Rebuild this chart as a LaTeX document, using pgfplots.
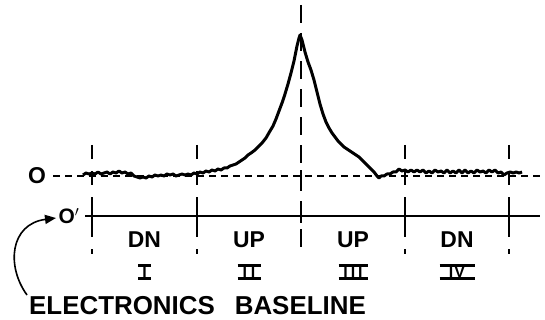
\documentclass[border=0pt]{standalone}
\usepackage{pgfplots}
\pgfplotsset{compat=1.18}
\usepackage{fontspec}
\setmainfont{Liberation Sans}
\usetikzlibrary{arrows.meta}
\newcommand{\rn}[2]{\vbox{\hrule width #1 height 2.6bp\hbox to #1{\hss#2\hss}\hrule width #1 height 2.6bp}}
\pgfplotstableread{
x y
83 1
86 3
89 2
92 3
95 2
98 4
101 2
104 3
107 4
110 2
113 4
116 3
119 5
122 3
125 4
128 2
131 3
134 0
137 -1
140 -2
143 -1
146 -2
149 0
152 -1
155 1
158 0
161 1
164 0
167 2
170 1
173 2
176 0
179 1
182 2
185 1
188 2
191 1
194 3
197 2
200 4
203 3
206 5
209 4
212 6
215 5
218 7
221 6
224 8
227 8
230 10
233 11
236 12
239 14
242 16
245 18
248 21
251 23
255 26
259 30
262 33
266 38
270 45
273 50
276 57
279 65
282 73
285 82
288 92
291 103
294 115
297 130
299 138
300 141
302 136
305 124
308 114
311 106
314 96
317 84
320 72
323 62
326 54
329 48
332 43
335 39
338 35
341 32
344 29
347 27
350 25
353 23
356 21
359 19
362 16
365 13
368 10
371 7
374 4
377 0
379 -2
381 0
384 0
387 2
390 2
393 4
396 4
399 7
402 5
405 6
408 4
411 6
414 4
417 6
420 4
423 6
426 3
429 5
432 3
435 6
438 4
441 5
444 3
447 6
450 3
453 5
456 3
459 6
462 3
465 6
468 3
471 5
474 3
477 6
480 4
483 5
486 3
489 6
492 4
495 6
498 3
501 4
504 1
507 3
510 4
513 3
516 4
519 3
522 4
}\trace
\begin{document}
\begin{tikzpicture}
\begin{axis}[name=ax, scale only axis, width=545bp, height=320bp,
  xmin=0, xmax=545, ymin=-144, ymax=176, hide axis, clip=false]
% zero line
\addplot[black, line width=1.5bp, dash pattern=on 7bp off 5bp] coordinates {(53,0) (543,0)};
% O' line
\addplot[black, line width=1.5bp] coordinates {(85,-40) (540,-40)};
% section dividers
\addplot[black, line width=1.5bp, dash pattern=on 14bp off 12bp] coordinates {(92,31) (92,-78)};
\addplot[black, line width=1.5bp, dash pattern=on 14bp off 12bp] coordinates {(197,31) (197,-78)};
\addplot[black, line width=1.5bp, dash pattern=on 14bp off 12bp] coordinates {(405,31) (405,-78)};
\addplot[black, line width=1.5bp, dash pattern=on 14bp off 12bp] coordinates {(509,31) (509,-78)};
\addplot[black, line width=1.5bp, dash pattern=on 18bp off 10bp] coordinates {(301,171) (301,-78)};
\addplot[black, line width=1.5bp] coordinates {(92,-33) (92,-47)};
\addplot[black, line width=1.5bp] coordinates {(197,-33) (197,-47)};
\addplot[black, line width=1.5bp] coordinates {(301,-33) (301,-47)};
\addplot[black, line width=1.5bp] coordinates {(405,-33) (405,-47)};
\addplot[black, line width=1.5bp] coordinates {(509,-33) (509,-47)};
\addplot[black, line width=1.5bp] coordinates {(301,-6) (301,6)};
% trace
\addplot[black, line width=3bp, line join=round] table[x=x, y=y] {\trace};
% labels
\node[font=\bfseries\fontsize{23}{23}\selectfont] at (axis cs:37,0) {O};
\node[font=\bfseries\fontsize{21}{21}\selectfont] at (axis cs:69,-40) {O$'$};
\node[font=\bfseries\fontsize{23}{23}\selectfont] at (axis cs:144.5,-64) {DN};
\node[font=\bfseries\fontsize{23}{23}\selectfont] at (axis cs:249,-64) {UP};
\node[font=\bfseries\fontsize{23}{23}\selectfont] at (axis cs:353,-64) {UP};
\node[font=\bfseries\fontsize{23}{23}\selectfont] at (axis cs:457,-64) {DN};
\node[font=\bfseries\fontsize{16}{16}\selectfont] at (axis cs:144.5,-96) {\rn{13bp}{I}};
\node[font=\bfseries\fontsize{16}{16}\selectfont] at (axis cs:249,-96) {\rn{23bp}{I\hspace{4bp}I}};
\node[font=\bfseries\fontsize{16}{16}\selectfont] at (axis cs:353,-96) {\rn{29bp}{I\hspace{3bp}I\hspace{3bp}I}};
\node[font=\bfseries\fontsize{16}{16}\selectfont] at (axis cs:457,-96) {\rn{35bp}{I\hspace{1bp}V}};
\node[font=\bfseries\fontsize{26}{26}\selectfont, anchor=base west, inner sep=0pt] at (axis cs:29,-139) {ELECTRONICS\hspace{20bp}BASELINE};
\draw[black, line width=1.6bp, -{Triangle[length=11bp, width=9bp]}] (axis cs:27,-119) .. controls (axis cs:6,-90) and (axis cs:10,-48) .. (axis cs:56,-42);
\end{axis}
\pgfresetboundingbox
\path[use as bounding box] (ax.south west) rectangle (ax.north east);
\end{tikzpicture}
\end{document}
